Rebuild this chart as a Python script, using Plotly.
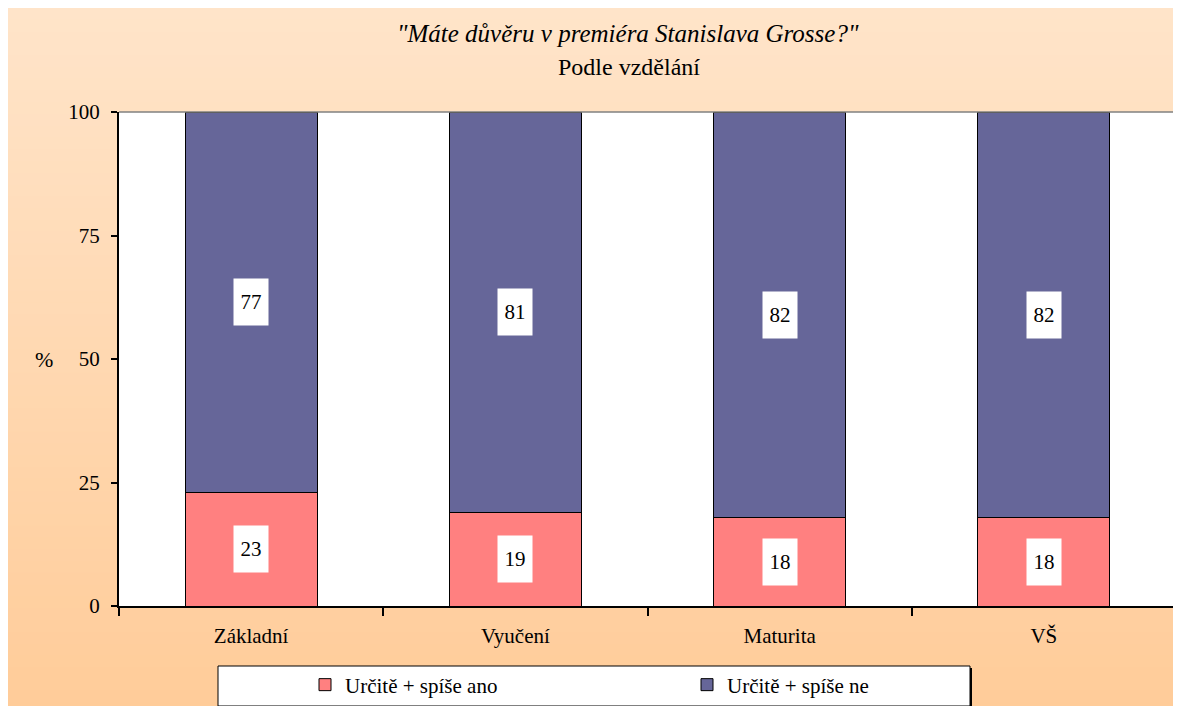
import plotly.graph_objects as go

categories = ["Základní", "Vyučení", "Maturita", "VŠ"]
yes_vals = [23, 19, 18, 18]
no_vals = [77, 81, 82, 82]
series_names = ["Určitě + spíše ano", "Určitě + spíše ne"]
tick_vals = [0, 25, 50, 75, 100]

W, H = 1181, 706
L, R, T, B = 111, 13, 104, 108
pw = W - L - R
ph = H - T - B

# helpers: figure pixel -> paper fraction
def px(x):
    return (x - L) / pw

def py(y):
    return (H - B - y) / ph

FONT = "Liberation Serif"
RED = "#FF8080"
BLUE = "#666699"

fig = go.Figure()
fig.add_trace(go.Bar(x=categories, y=yes_vals, name=series_names[0], width=0.5,
                     marker=dict(color=RED, line=dict(color="black", width=1))))
fig.add_trace(go.Bar(x=categories, y=no_vals, name=series_names[1], width=0.5,
                     marker=dict(color=BLUE, line=dict(color="black", width=1))))

# value labels in white boxes
annotations = []
for c, a, n in zip(categories, yes_vals, no_vals):
    annotations.append(dict(x=c, y=a / 2, xref="x", yref="y", text=str(a), showarrow=False,
                            bgcolor="white", width=34, height=46, borderpad=0,
                            font=dict(family=FONT, size=21, color="black")))
    annotations.append(dict(x=c, y=a + n / 2, xref="x", yref="y", text=str(n), showarrow=False,
                            bgcolor="white", width=34, height=46, borderpad=0,
                            font=dict(family=FONT, size=21, color="black")))

annotations.append(dict(x=px(620), y=py(25), xref="paper", yref="paper",
                        xanchor="center", yanchor="middle",
                        text="<i>\"Máte důvěru v premiéra Stanislava Grosse?\"</i>",
                        showarrow=False, font=dict(family=FONT, size=25, color="black")))
annotations.append(dict(x=px(621), y=py(59), xref="paper", yref="paper",
                        xanchor="center", yanchor="middle",
                        text="Podle vzdělání",
                        showarrow=False, font=dict(family=FONT, size=24, color="black")))
annotations.append(dict(x=px(36), y=0.5, xref="paper", yref="paper",
                        xanchor="center", yanchor="middle", text="%",
                        showarrow=False, font=dict(family=FONT, size=22, color="black")))

# gradient background over the whole paper
shapes = []
top_c = (255, 228, 201)
bot_c = (255, 204, 153)
N = 60
for i in range(N):
    t = i / (N - 1)
    col = tuple(round(top_c[k] + (bot_c[k] - top_c[k]) * t) for k in range(3))
    ya = H * i / N
    yb = min(H * (i + 1) / N + 1, H)
    shapes.append(dict(type="rect", xref="paper", yref="paper", x0=px(0), x1=px(W),
                       y0=py(yb), y1=py(ya), fillcolor="rgb(%d,%d,%d)" % col,
                       line=dict(width=0), layer="below"))
# plot area white
shapes.append(dict(type="rect", xref="paper", yref="paper", x0=0, x1=1, y0=0, y1=1,
                   fillcolor="white", line=dict(width=0), layer="below"))
# gray top/right border
shapes.append(dict(type="line", xref="paper", yref="paper", x0=0, x1=1, y0=1, y1=1,
                   line=dict(color="#808080", width=1.5)))
shapes.append(dict(type="line", xref="paper", yref="paper", x0=1, x1=1, y0=0, y1=1,
                   line=dict(color="#808080", width=1.5)))
# legend box (shadow + box)
shapes.append(dict(type="rect", xref="paper", yref="paper", x0=px(212), x1=px(964),
                   y0=py(700), y1=py(660), fillcolor="black", line=dict(width=0), layer="below"))
shapes.append(dict(type="rect", xref="paper", yref="paper", x0=px(210), x1=px(962),
                   y0=py(698), y1=py(658), fillcolor="white",
                   line=dict(color="black", width=1), layer="below"))

fig.update_layout(
    width=W, height=H,
    margin=dict(l=L, r=R, t=T, b=B, pad=0),
    barmode="stack",
    paper_bgcolor="#FFCC99",
    plot_bgcolor="rgba(0,0,0,0)",
    font=dict(family=FONT, size=21, color="black"),
    showlegend=True,
    legend=dict(orientation="h", xref="container", yref="container",
                x=297 / W, xanchor="left", y=1 - 677 / H, yanchor="middle",
                bgcolor="rgba(0,0,0,0)", borderwidth=0, entrywidth=337, entrywidthmode="pixels",
                font=dict(family=FONT, size=21, color="black"), traceorder="normal"),
    annotations=annotations,
    shapes=shapes,
    xaxis=dict(showline=True, linecolor="black", linewidth=2, ticks="outside", ticklen=8,
               tickwidth=1.5, tickcolor="black", tickson="boundaries", showgrid=False,
               tickfont=dict(family=FONT, size=21), ticklabelstandoff=10, fixedrange=True,
               automargin=False),
    yaxis=dict(range=[0, 100], tickvals=tick_vals, showline=True, linecolor="black", linewidth=2,
               ticks="outside", ticklen=6, tickwidth=1.5, tickcolor="black", showgrid=False,
               zeroline=False, tickfont=dict(family=FONT, size=21), ticklabelstandoff=7,
               fixedrange=True, automargin=False),
)

fig.write_html("out.html")
